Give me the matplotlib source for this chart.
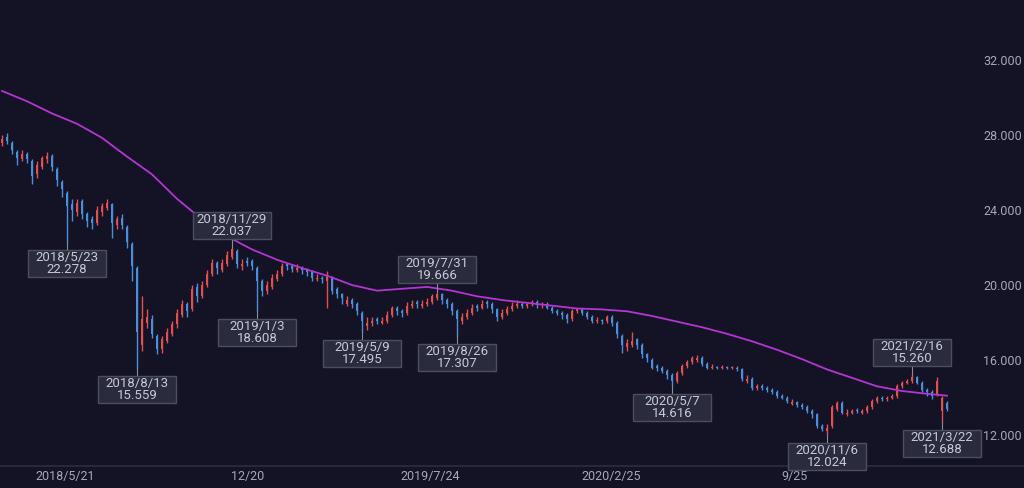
import matplotlib
matplotlib.use("Agg")
import matplotlib.pyplot as plt
import matplotlib.transforms as mtransforms
from matplotlib.patches import Rectangle
from matplotlib.lines import Line2D
import numpy as np

plt.rcParams["font.family"] = ["Roboto", "DejaVu Sans"]

BG = "#131325"
UP = "#e0504f"
DOWN = "#4a8fdc"
MA_COLOR = "#b634d4"
BOX = "#2a2c3e"
BOX_EDGE = "#4b4e60"
TEXT = "#c6c9d8"
AXIS_TEXT = "#a4a8b8"

# bars, roughly 4 trading days each, 2018/3 .. 2021/3
opens = [
    27.6, 27.9, 27.6, 27.1, 26.7, 27.0, 26.6, 25.9, 26.3, 26.7,
    26.9, 26.2, 25.5, 24.9, 24.3, 23.9, 24.5, 23.8, 23.5, 23.3,
    23.9, 24.1, 24.3, 23.2, 23.6, 23.1, 22.2, 20.9, 16.8, 18.0,
    18.2, 17.3, 16.6, 17.0, 17.4, 17.9, 18.4, 19.0, 18.7, 19.9,
    19.4, 20.0, 20.6, 21.2, 20.8, 21.1, 21.5, 21.8, 21.0, 21.3,
    21.3, 20.9, 20.2, 19.7, 19.9, 20.3, 20.6, 21.1, 21.0, 20.8,
    20.9, 20.8, 20.7, 20.3, 20.4, 20.2, 20.4, 19.8, 19.5, 19.0,
    19.2, 19.0, 18.5, 17.8, 18.0, 18.2, 18.0, 18.1, 18.4, 18.8,
    18.6, 18.5, 18.9, 19.1, 18.9, 19.0, 19.1, 19.3, 19.5, 19.2,
    19.0, 18.6, 18.1, 18.3, 18.5, 18.9, 18.8, 19.1, 19.0, 18.7,
    18.3, 18.5, 18.7, 18.9, 19.0, 18.9, 19.0, 19.1, 18.95, 19.0,
    18.8, 18.6, 18.5, 18.4, 18.2, 18.6, 18.7, 18.5, 18.3, 18.1,
    18.15, 18.1, 18.3, 18.0, 17.3, 16.7, 16.8, 17.1, 16.8, 16.3,
    16.0, 15.7, 15.6, 15.4, 15.2, 14.9, 15.3, 15.7, 15.9, 16.0,
    16.1, 15.8, 15.6, 15.65, 15.6, 15.65, 15.6, 15.6, 15.5, 14.9,
    15.0, 14.5, 14.6, 14.5, 14.4, 14.3, 14.1, 14.0, 13.65, 13.75,
    13.6, 13.5, 13.3, 13.1, 12.5, 12.2, 12.5, 13.4, 13.7, 13.1,
    13.2, 13.35, 13.2, 13.3, 13.5, 13.8, 14.0, 13.9, 14.0, 14.1,
    14.6, 14.8, 14.9, 15.1, 14.8, 14.4, 14.3, 14.2, 13.3, 13.7,
]
closes = [
    27.8, 27.7, 27.2, 26.8, 27.0, 26.7, 25.8, 26.4, 26.8, 26.9,
    26.3, 25.6, 25.1, 24.2, 24.0, 24.4, 23.8, 23.4, 23.3, 24.0,
    24.2, 24.4, 23.3, 23.5, 23.2, 22.3, 21.0, 17.5, 18.2, 18.3,
    17.4, 16.6, 17.1, 17.5, 17.9, 18.5, 19.0, 18.6, 19.8, 19.4,
    20.0, 20.6, 21.2, 20.9, 21.2, 21.6, 21.9, 21.1, 21.1, 21.2,
    21.0, 20.2, 19.7, 20.0, 20.4, 20.6, 21.0, 21.0, 20.85, 20.9,
    20.8, 20.7, 20.4, 20.4, 20.3, 20.5, 19.7, 19.5, 19.3, 19.2,
    19.0, 18.6, 18.1, 18.0, 18.1, 18.1, 18.1, 18.4, 18.8, 18.6,
    18.5, 18.9, 19.0, 19.0, 19.0, 19.1, 19.4, 19.5, 19.2, 19.0,
    18.6, 18.2, 18.3, 18.5, 18.8, 18.8, 19.0, 19.0, 18.7, 18.3,
    18.5, 18.7, 18.9, 19.0, 18.9, 19.0, 19.1, 18.95, 19.0, 18.8,
    18.6, 18.5, 18.4, 18.2, 18.6, 18.7, 18.5, 18.3, 18.1, 18.15,
    18.1, 18.3, 18.0, 17.4, 16.8, 16.9, 17.0, 16.8, 16.3, 16.1,
    15.6, 15.6, 15.4, 15.2, 14.9, 15.3, 15.7, 15.9, 16.1, 16.1,
    15.8, 15.6, 15.65, 15.6, 15.65, 15.6, 15.62, 15.5, 15.0, 15.0,
    14.5, 14.6, 14.5, 14.4, 14.3, 14.1, 14.0, 13.8, 13.75, 13.6,
    13.5, 13.3, 13.1, 12.5, 12.3, 12.4, 13.5, 13.7, 13.2, 13.2,
    13.3, 13.3, 13.3, 13.5, 13.8, 14.0, 13.9, 14.0, 14.1, 14.6,
    14.8, 14.9, 15.1, 14.8, 14.4, 14.3, 14.1, 14.9, 14.0, 13.4,
]
highs = [
    28.0, 28.1, 27.7, 27.2, 27.2, 27.1, 26.7, 26.6, 26.9, 27.1,
    27.0, 26.3, 25.6, 25.0, 24.6, 24.6, 24.6, 23.9, 23.7, 24.2,
    24.4, 24.6, 24.4, 23.7, 23.8, 23.2, 22.3, 21.0, 19.4, 18.7,
    18.4, 17.4, 17.3, 17.7, 18.1, 18.7, 19.2, 19.1, 20.0, 20.1,
    20.2, 20.8, 21.4, 21.3, 21.4, 21.8, 22.037, 21.9, 21.4, 21.5,
    21.4, 21.0, 20.3, 20.2, 20.6, 20.8, 21.2, 21.2, 21.1, 21.1,
    21.0, 20.9, 20.8, 20.6, 20.5, 20.75, 20.5, 19.9, 19.6, 19.4,
    19.3, 19.1, 18.6, 18.3, 18.3, 18.3, 18.3, 18.6, 18.9, 18.9,
    18.7, 19.1, 19.2, 19.2, 19.2, 19.3, 19.5, 19.666, 19.6, 19.3,
    19.1, 18.7, 18.5, 18.7, 19.0, 19.0, 19.2, 19.2, 19.1, 18.8,
    18.7, 18.9, 19.1, 19.2, 19.1, 19.1, 19.2, 19.2, 19.1, 19.1,
    18.9, 18.7, 18.6, 18.5, 18.7, 18.8, 18.8, 18.6, 18.4, 18.3,
    18.2, 18.4, 18.4, 18.1, 17.4, 17.1, 17.5, 17.2, 16.9, 16.4,
    16.1, 15.8, 15.7, 15.5, 15.3, 15.4, 15.8, 16.0, 16.2, 16.25,
    16.2, 15.9, 15.8, 15.7, 15.75, 15.7, 15.7, 15.7, 15.6, 15.2,
    15.1, 14.7, 14.7, 14.6, 14.5, 14.4, 14.2, 14.1, 13.9, 13.8,
    13.7, 13.6, 13.4, 13.2, 12.6, 12.6, 13.6, 13.8, 13.8, 13.4,
    13.4, 13.45, 13.4, 13.6, 13.9, 14.1, 14.1, 14.1, 14.2, 14.7,
    14.9, 15.0, 15.26, 15.15, 14.9, 14.5, 14.4, 15.1, 14.1, 13.8,
]
lows = [
    27.4, 27.5, 27.0, 26.4, 26.6, 26.5, 25.4, 25.7, 26.2, 26.5,
    26.1, 25.3, 24.7, 22.278, 23.4, 23.7, 23.5, 23.1, 23.0, 23.2,
    23.7, 24.0, 22.5, 23.0, 23.0, 22.0, 20.2, 15.559, 16.5, 17.7,
    17.2, 16.3, 16.4, 16.9, 17.3, 17.7, 18.3, 18.3, 18.6, 19.1,
    19.3, 19.9, 20.5, 20.6, 20.7, 21.0, 21.4, 20.9, 20.8, 21.0,
    20.8, 18.608, 19.4, 19.5, 19.8, 20.2, 20.5, 20.8, 20.7, 20.7,
    20.6, 20.5, 20.2, 20.2, 20.1, 18.8, 19.5, 19.3, 19.0, 18.9,
    18.8, 18.4, 17.495, 17.6, 17.8, 17.9, 17.9, 18.0, 18.3, 18.4,
    18.3, 18.4, 18.8, 18.8, 18.8, 18.9, 19.0, 19.2, 19.0, 18.8,
    18.4, 17.307, 17.9, 18.2, 18.4, 18.6, 18.7, 18.8, 18.5, 18.1,
    18.2, 18.4, 18.6, 18.8, 18.8, 18.8, 18.9, 18.8, 18.8, 18.7,
    18.5, 18.4, 18.2, 18.0, 18.1, 18.5, 18.4, 18.2, 18.0, 18.0,
    17.9, 18.0, 17.8, 17.2, 16.4, 16.5, 16.7, 16.6, 16.1, 15.9,
    15.5, 15.4, 15.3, 15.0, 14.616, 14.8, 15.2, 15.6, 15.8, 15.9,
    15.7, 15.5, 15.5, 15.5, 15.5, 15.5, 15.5, 15.4, 14.9, 14.8,
    14.4, 14.4, 14.4, 14.3, 14.2, 14.0, 13.9, 13.7, 13.6, 13.5,
    13.4, 13.2, 12.9, 12.4, 12.2, 12.024, 12.4, 13.3, 13.1, 13.0,
    13.1, 13.2, 13.1, 13.2, 13.4, 13.7, 13.8, 13.8, 13.9, 14.0,
    14.5, 14.7, 14.8, 14.7, 14.3, 14.1, 13.9, 14.1, 12.688, 13.3,
]

# moving average read every 5 bars, last point on the final bar
ma_values = [
    30.35, 29.8, 29.15, 28.6, 27.85, 26.85, 25.9, 24.6, 23.5, 22.6,
    21.9, 21.35, 20.9, 20.5, 20.0, 19.7, 19.8, 19.9, 19.7, 19.4,
    19.2, 19.05, 18.9, 18.75, 18.7, 18.6, 18.35, 18.05, 17.75, 17.4,
    17.0, 16.55, 16.05, 15.5, 15.05, 14.6, 14.35, 14.2, 14.1,
]

tick_labels = ["2018/5/21", "12/20", "2019/7/24", "2020/2/25", "9/25"]
tick_bars = [12.6, 49.2, 85.6, 121.8, 158.4]

ann_dates = ["2018/5/23", "2018/8/13", "2018/11/29", "2019/1/3", "2019/5/9",
             "2019/7/31", "2019/8/26", "2020/5/7", "2020/11/6", "2021/2/16",
             "2021/3/22"]
ann_values = [22.278, 15.559, 22.037, 18.608, 17.495, 19.666, 17.307,
              14.616, 12.024, 15.260, 12.688]
ann_kind = ["low", "low", "high", "low", "low", "high", "low", "low", "low",
            "high", "low"]

o = np.array(opens)
c = np.array(closes)
h = np.array(highs)
l = np.array(lows)
idx = np.arange(len(c))

fig = plt.figure(figsize=(10.24, 4.88), dpi=100, facecolor=BG)
ax = fig.add_axes([0, 22 / 488, 1, 466 / 488])
ax.set_facecolor(BG)

colors = [UP if cc >= oo else DOWN for oo, cc in zip(o, c)]
ax.vlines(idx, l, h, colors=colors, linewidth=1.0, zorder=2)
body = np.maximum(np.abs(c - o), 0.05)
ax.bar(idx, body, bottom=np.minimum(o, c), width=0.42, color=colors,
       linewidth=0, zorder=3)

ma_bars = list(range(0, len(c), 5)) + [len(c) - 1]
ax.plot(ma_bars, ma_values, color=MA_COLOR, linewidth=1.3, zorder=4,
        solid_joinstyle="round")

ax.set_xlim(-0.4, 204.4)
ax.set_ylim(10.35, 35.2)

ax.set_xticks(tick_bars)
ax.set_xticklabels(tick_labels)
ax.set_yticks([12, 16, 20, 24, 28, 32])
ax.set_yticklabels(["%.3f" % v for v in [12, 16, 20, 24, 28, 32]])
ax.yaxis.tick_right()
ax.tick_params(axis="y", length=0, pad=-29.5, colors=AXIS_TEXT, labelsize=9)
ax.tick_params(axis="x", length=0, pad=3, colors=AXIS_TEXT, labelsize=9)
for side in ["top", "left", "right"]:
    ax.spines[side].set_visible(False)
ax.spines["bottom"].set_color("#2c2e3f")
ax.spines["bottom"].set_linewidth(1.2)


def note(i, y, date, value, below):
    trans = mtransforms.ScaledTranslation(i, y, ax.transData)
    gap, w, hgt = 8, 78, 27
    sign = -1 if below else 1
    y0 = -gap - hgt if below else gap
    fig.add_artist(Line2D([0, 0], [0, sign * gap], transform=trans,
                          color="#8a8d9c", linewidth=0.8, zorder=5))
    fig.add_artist(Rectangle((-w / 2, y0), w, hgt, transform=trans,
                             facecolor=BOX, edgecolor=BOX_EDGE,
                             linewidth=1, zorder=6))
    fig.text(0, y0 + hgt - 7.5, date, transform=trans, ha="center",
             va="center", color=TEXT, fontsize=9.5, zorder=7)
    fig.text(0, y0 + hgt - 19.5, "%.3f" % value, transform=trans,
             ha="center", va="center", color=TEXT, fontsize=9.5, zorder=7)


for d, v, k in zip(ann_dates, ann_values, ann_kind):
    if k == "low":
        i = int(np.argmin(np.abs(l - v)))
        note(i, l[i], d, v, True)
    else:
        i = int(np.argmin(np.abs(h - v)))
        note(i, h[i], d, v, False)

fig.savefig("out.png", dpi=100, facecolor=BG)
